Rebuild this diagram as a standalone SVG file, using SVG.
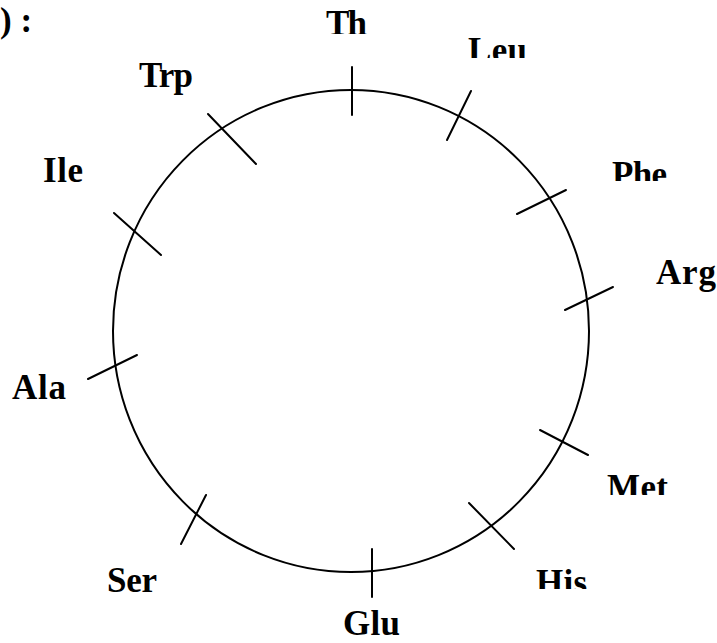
<svg xmlns="http://www.w3.org/2000/svg" width="717" height="643" viewBox="0 0 717 643">
<style>
.t{font-family:"Liberation Serif","Times New Roman",serif;font-weight:bold;font-size:35px;fill:#000}
.k{stroke:#000;stroke-width:2;fill:none;stroke-linecap:round}
</style>
<defs>
<clipPath id="cTh"><rect x="300" y="0" width="100" height="34"/></clipPath>
<clipPath id="cLeu"><rect x="440" y="20" width="120" height="38"/></clipPath>
<clipPath id="cPhe"><rect x="590" y="140" width="110" height="41"/></clipPath>
<clipPath id="cMet"><rect x="590" y="450" width="110" height="45"/></clipPath>
<clipPath id="cHis"><rect x="520" y="545" width="90" height="44"/></clipPath>
</defs>
<rect width="717" height="643" fill="#fff"/>
<text class="t" x="0" y="32">) :</text>
<g id="wheel">
<ellipse class="k" cx="351" cy="331" rx="238" ry="241"/>
</g>
<g id="ticks">
<line class="k" x1="352" y1="67" x2="352" y2="115"/>
<line class="k" x1="471" y1="91" x2="447" y2="140"/>
<line class="k" x1="517" y1="214" x2="566" y2="190"/>
<line class="k" x1="565" y1="310" x2="613" y2="287"/>
<line class="k" x1="540" y1="430" x2="588" y2="455"/>
<line class="k" x1="469" y1="503" x2="514" y2="549"/>
<line class="k" x1="372" y1="549" x2="372" y2="597"/>
<line class="k" x1="206" y1="495" x2="181" y2="544"/>
<line class="k" x1="137" y1="355" x2="88" y2="379"/>
<line class="k" x1="114" y1="213" x2="161" y2="255"/>
<line class="k" x1="208" y1="114" x2="256" y2="164"/>
</g>
<g id="Th"><text class="t" x="326" y="35" textLength="41" clip-path="url(#cTh)">Th</text></g>
<g id="Leu"><text class="t" x="468" y="62" textLength="59" clip-path="url(#cLeu)">Leu</text></g>
<g id="Phe"><text class="t" x="612" y="186" textLength="55" clip-path="url(#cPhe)">Phe</text></g>
<g id="Arg"><text class="t" x="656" y="284" textLength="60">Arg</text></g>
<g id="Met"><text class="t" x="607" y="499" textLength="61" clip-path="url(#cMet)">Met</text></g>
<g id="His"><text class="t" x="536" y="594" textLength="51" clip-path="url(#cHis)">His</text></g>
<g id="Glu"><text class="t" x="343" y="635" textLength="57">Glu</text></g>
<g id="Ser"><text class="t" x="107" y="592" textLength="50">Ser</text></g>
<g id="Ala"><text class="t" x="12" y="399" textLength="54">Ala</text></g>
<g id="Ile"><text class="t" x="43" y="182" textLength="40">Ile</text></g>
<g id="Trp"><text class="t" x="139" y="87" textLength="54">Trp</text></g>
</svg>
